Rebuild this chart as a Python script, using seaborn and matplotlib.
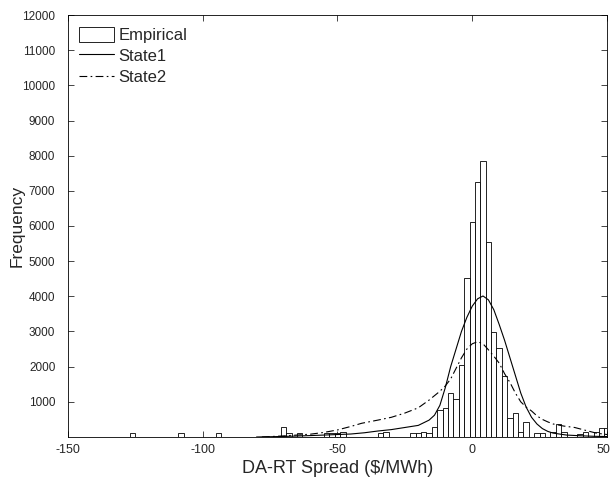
import matplotlib
matplotlib.use("Agg")
import matplotlib.pyplot as plt
import matplotlib.transforms as mtransforms
import seaborn as sns
import numpy as np
import pandas as pd
from matplotlib.patches import Patch
from matplotlib.lines import Line2D

# Empirical histogram (bin centres, counts), bin width 2
bin_centers = [-126, -108, -94, -70, -68, -64, -54, -52, -50, -48, -34, -32,
               -22, -20, -18, -16, -14, -12, -10, -8, -6, -4, -2, 0, 2, 4, 6,
               8, 10, 12, 14, 16, 18, 20, 24, 26, 30, 32, 34, 40, 42, 46, 48, 50]
bin_counts = [110, 110, 120, 270, 120, 105, 120, 110, 110, 140, 110, 140,
              100, 110, 140, 100, 290, 780, 820, 1240, 1070, 2050, 4520, 6110, 7240, 7860, 5550,
              2995, 2520, 1740, 540, 680, 140, 440, 120, 110, 130, 370, 130, 90, 130, 150, 250, 250]

# State1 fitted curve
s1_x = [-80, -70, -60, -50, -45, -40, -35, -30, -25, -20, -16, -14, -12, -10, -8, -6, -4, -2,
        0, 2, 4, 6, 8, 10, 12, 14, 16, 18, 20, 22, 24, 26, 28, 30, 35, 40, 45, 50]
s1_y = [0, 15, 40, 70, 85, 120, 170, 210, 270, 330, 480, 620, 900, 1400, 2000, 2500, 3000, 3400,
        3720, 3930, 4010, 3900, 3620, 3200, 2750, 2250, 1750, 1250, 850, 560, 370, 240, 160, 110, 55, 35, 20, 12]

# State2 fitted curve
s2_x = [-78, -70, -60, -55, -50, -45, -41, -35, -30, -25, -20, -16, -12, -10, -8, -6, -4, -2,
        0, 2, 4, 6, 8, 10, 12, 14, 16, 18, 20, 22, 24, 26, 28, 30, 34, 38, 42, 46, 50]
s2_y = [0, 30, 80, 130, 200, 300, 390, 480, 560, 680, 830, 1050, 1300, 1450, 1650, 1950, 2250, 2500,
        2650, 2710, 2650, 2480, 2300, 2100, 1800, 1550, 1250, 1000, 850, 740, 600, 500, 430, 370, 310, 270, 190, 110, 70]

x_ticks = [-150, -100, -50, 0, 50]
y_ticks = [1000, 2000, 3000, 4000, 5000, 6000, 7000, 8000, 9000, 10000, 11000, 12000]

sns.set_style("white")
plt.rcParams['font.family'] = ['Liberation Sans', 'DejaVu Sans']

fig = plt.figure(figsize=(6.11, 4.78), dpi=100)
ax = fig.add_axes([0.111, 0.0858, 0.8825, 0.8828])

hist_df = pd.DataFrame({"x": bin_centers, "w": bin_counts})
sns.histplot(data=hist_df, x="x", weights="w", binwidth=2, binrange=(-127, 51),
             color="white", edgecolor="black", linewidth=0.6, alpha=1, ax=ax)

dashdot = (0, (7, 3, 1.5, 3))
sns.lineplot(x=s1_x, y=s1_y, color="black", linewidth=0.8, ax=ax)
sns.lineplot(x=s2_x, y=s2_y, color="black", linewidth=0.8, ax=ax, linestyle=dashdot)

ax.set_xlim(-150, 50)
ax.set_ylim(0, 12000)
ax.set_xticks(x_ticks)
ax.set_yticks(y_ticks)
ax.set_xticklabels([str(v) for v in x_ticks])
ax.set_yticklabels([str(v) for v in y_ticks])
ax.tick_params(direction="in", length=4, width=0.6, top=True, right=True,
               bottom=True, left=True)
ax.tick_params(axis="x", pad=5, labelsize=9)
ax.tick_params(axis="y", pad=9, labelsize=8.5)
for s in ax.spines.values():
    s.set_linewidth(0.6)
    s.set_color("black")

# nudge the last x tick label so it stays inside the figure
last_lbl = ax.get_xticklabels()[-1]
last_lbl.set_transform(last_lbl.get_transform() +
                       mtransforms.ScaledTranslation(-4 / 100, 0, fig.dpi_scale_trans))

ax.set_xlabel("DA-RT Spread ($/MWh)", fontsize=13, labelpad=3)
ax.set_ylabel("Frequency", fontsize=12.5)
ax.yaxis.set_label_coords(-0.08, 0.5)

handles = [Patch(facecolor="white", edgecolor="black", linewidth=0.6),
           Line2D([], [], color="black", linewidth=0.8),
           Line2D([], [], color="black", linewidth=0.8, linestyle=dashdot)]
ax.legend(handles, ["Empirical", "State1", "State2"], loc="upper left", frameon=False,
          fontsize=12, handlelength=2.1, handleheight=1.0, handletextpad=0.25,
          labelspacing=0.3, borderaxespad=0.3, bbox_to_anchor=(0.0, 1.0))

fig.savefig("out.png", dpi=100)
